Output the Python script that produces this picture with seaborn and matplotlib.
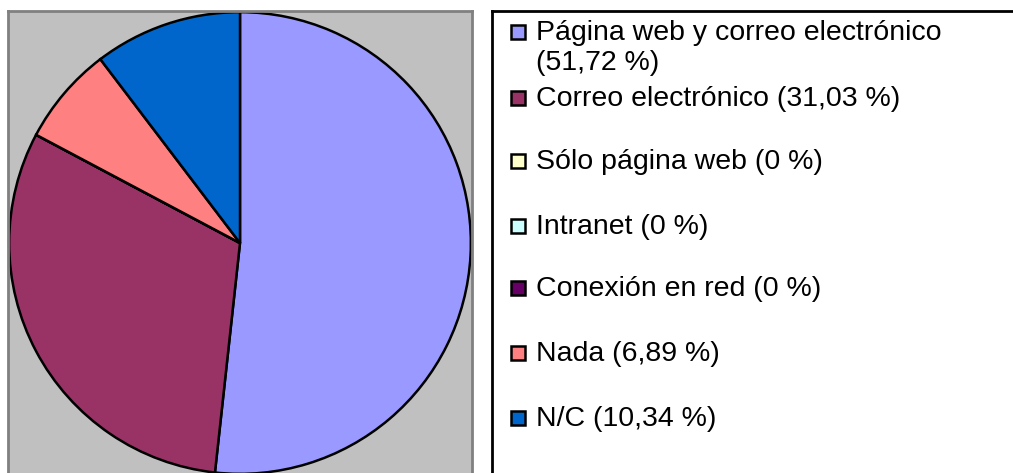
import matplotlib
matplotlib.use('Agg')
import matplotlib.pyplot as plt
from matplotlib.patches import Rectangle
import seaborn as sns
import textwrap

# datos del gráfico
categorias = ["Página web y correo electrónico", "Correo electrónico", "Sólo página web",
              "Intranet", "Conexión en red", "Nada", "N/C"]
porcentajes = [51.72, 31.03, 0, 0, 0, 6.89, 10.34]
colores = ["#9999FF", "#993366", "#FFFFCC", "#CCFFFF", "#660066", "#FF8080", "#0066CC"]

sns.set_theme(style="white")
plt.rcParams['font.family'] = ['Liberation Sans', 'DejaVu Sans']

W, H = 1013, 473
fig = plt.figure(figsize=(W / 100, H / 100), dpi=100)

# zona del gráfico circular (en píxeles: x 8..472, y 11..475)
ax = fig.add_axes([8 / W, (H - 475) / H, 464 / W, 464 / H])
palette = sns.color_palette(colores)
ax.pie(porcentajes, colors=palette, startangle=90, counterclock=False,
       wedgeprops=dict(edgecolor='black', linewidth=1.8))
ax.set_xlim(-1.005, 1.005)
ax.set_ylim(-1.005, 1.005)
ax.set_frame_on(True)
ax.set_facecolor('#C0C0C0')
for s in ax.spines.values():
    s.set_visible(True)
    s.set_color('#808080')
    s.set_linewidth(2)
ax.set_xticks([])
ax.set_yticks([])

# leyenda hecha a mano, coordenadas en píxeles
lax = fig.add_axes([492 / W, (H - 490) / H, (1030 - 492) / W, (490 - 11) / H])
lax.set_xlim(492, 1030)
lax.set_ylim(490, 11)
lax.set_xticks([])
lax.set_yticks([])
lax.set_facecolor('white')
for s in lax.spines.values():
    s.set_color('black')
    s.set_linewidth(2)

filas_y = [32, 98, 161, 226, 288, 353, 418]
for cat, val, col, y in zip(categorias, porcentajes, palette, filas_y):
    txt = f"{cat} ({val:g} %)".replace('.', ',')
    lineas = textwrap.wrap(txt, width=32)
    lax.add_patch(Rectangle((511, y - 7), 14, 14, facecolor=col,
                            edgecolor='black', linewidth=1.8))
    for i, linea in enumerate(lineas):
        lax.text(536, y + 1 + i * 30, linea, fontsize=20.5, va='center', ha='left', color='black')

fig.savefig('out.png', dpi=100)
